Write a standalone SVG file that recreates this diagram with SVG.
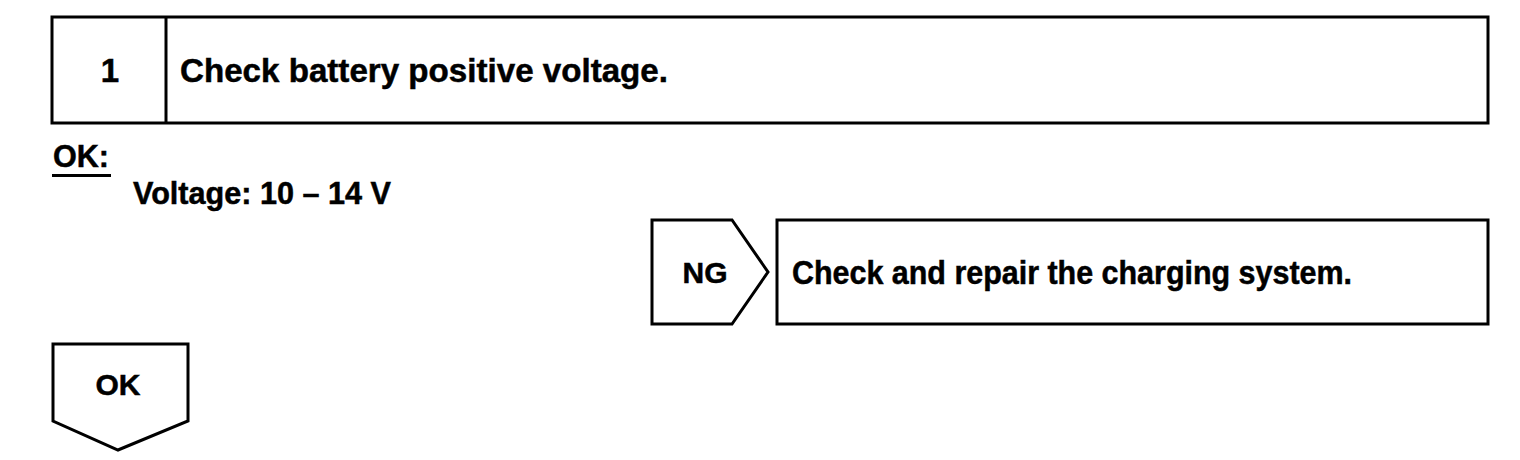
<svg xmlns="http://www.w3.org/2000/svg" width="1520" height="460" viewBox="0 0 1520 460">
<style>
.box{fill:#fff;stroke:#000;stroke-width:3}
.t{font-family:"Liberation Sans",Arial,sans-serif;font-weight:bold;font-size:30px;fill:#000;stroke:#000;stroke-width:0.5}
.b{font-family:"Liberation Sans",Arial,sans-serif;font-weight:bold;font-size:33px;fill:#000;stroke:#000;stroke-width:0.5}
.s{font-family:"Liberation Sans",Arial,sans-serif;font-weight:bold;font-size:31px;fill:#000;stroke:#000;stroke-width:0.5}
</style>
<rect width="1520" height="460" fill="#fff"/>
<g id="step1">
<rect class="box" x="52" y="17" width="1436" height="106"/>
<line x1="166" y1="17" x2="166" y2="123" stroke="#000" stroke-width="3"/>
<text class="b" x="110" y="82" text-anchor="middle">1</text>
<text class="b" x="180" y="82" textLength="488" lengthAdjust="spacingAndGlyphs">Check battery positive voltage.</text>
</g>
<g id="spec">
<text class="s" x="53" y="167" textLength="56" lengthAdjust="spacingAndGlyphs">OK:</text>
<line x1="52" y1="175.5" x2="111" y2="175.5" stroke="#000" stroke-width="3"/>
<text class="s" x="133" y="204" textLength="258" lengthAdjust="spacingAndGlyphs">Voltage: 10 – 14 V</text>
</g>
<g id="connectors">
<path id="ng" class="box" d="M652,220 H732 L768,272 L732,324 H652 Z"/>
<path id="ok" class="box" d="M53,344 H188 V421 L118,450 L53,421 Z"/>
</g>
<g id="ng-label">
<text class="t" x="705" y="283" text-anchor="middle">NG</text>
</g>
<g id="ok-label">
<text class="t" x="118" y="395" text-anchor="middle">OK</text>
</g>
<g id="action">
<rect class="box" x="777" y="220" width="711" height="104"/>
<text class="b" x="792" y="284" textLength="560" lengthAdjust="spacingAndGlyphs">Check and repair the charging system.</text>
</g>
</svg>
